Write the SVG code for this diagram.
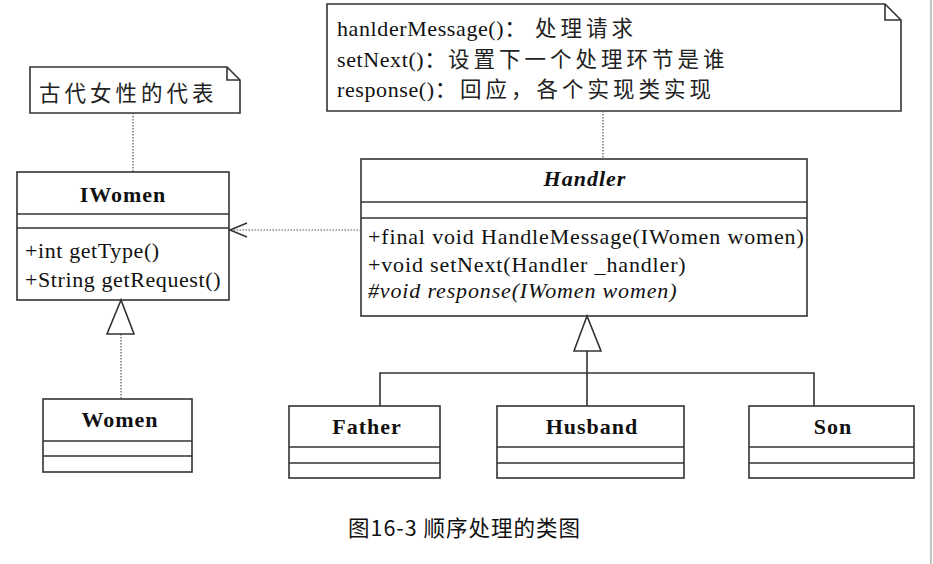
<svg xmlns="http://www.w3.org/2000/svg" width="933" height="564" viewBox="0 0 933 564">
<style>
.box{fill:#fff;stroke:#333;stroke-width:1.6}
.ln{fill:none;stroke:#333;stroke-width:1.6}
.dot{fill:none;stroke:#555;stroke-width:1.2;stroke-dasharray:1.5 1.5}
.t{font-family:"Liberation Serif","Noto Sans CJK SC",serif;font-size:22px;fill:#111;letter-spacing:0.6px}
.cjk{font-family:"Noto Sans CJK SC","Liberation Serif",sans-serif;font-size:21.5px;fill:#222;letter-spacing:4px}
.b{font-weight:bold;text-anchor:middle;letter-spacing:1px}
.i{font-style:italic}
.m{letter-spacing:0.85px}
</style>
<rect width="933" height="564" fill="#fff"/>
<line x1="931" y1="0" x2="931" y2="564" stroke="#c4c4c4" stroke-width="2"/>

<g id="note-women">
<path class="box" d="M30 67 H227 L240 80 V113 H30 Z"/>
<path class="ln" d="M227 67 V80 H240"/>
<text class="cjk" x="39" y="101">古代女性的代表</text>
</g>

<g id="note-handler">
<path class="box" d="M327 4 H885 L901 20 V111 H327 Z"/>
<path class="ln" d="M885 4 V20 H901"/>
<text class="t" x="337" y="36">hanlderMessage()：</text>
<text class="cjk" x="535" y="36">处理请求</text>
<text class="t" x="337" y="67">setNext()：</text>
<text class="cjk" x="448" y="67">设置下一个处理环节是谁</text>
<text class="t" x="337" y="97">response()：</text>
<text class="cjk" x="460" y="97">回应，各个实现类实现</text>
</g>

<g id="IWomen">
<rect class="box" x="17" y="172" width="212" height="128"/>
<line class="ln" x1="17" y1="214" x2="229" y2="214"/>
<line class="ln" x1="17" y1="228" x2="229" y2="228"/>
<text class="t b" x="123" y="202">IWomen</text>
<text class="t" x="25" y="258">+int getType()</text>
<text class="t" x="25" y="287">+String getRequest()</text>
</g>

<g id="Handler">
<rect class="box" x="361" y="159" width="446" height="157"/>
<line class="ln" x1="361" y1="202" x2="807" y2="202"/>
<line class="ln" x1="361" y1="218" x2="807" y2="218"/>
<text class="t b i" x="585" y="186">Handler</text>
<text class="t m" x="368" y="244">+final void HandleMessage(IWomen women)</text>
<text class="t m" x="368" y="272">+void setNext(Handler _handler)</text>
<text class="t i m" x="368" y="298">#void response(IWomen women)</text>
</g>

<g id="Women">
<rect class="box" x="43" y="399" width="149" height="73"/>
<line class="ln" x1="43" y1="441" x2="192" y2="441"/>
<line class="ln" x1="43" y1="456" x2="192" y2="456"/>
<text class="t b" x="120" y="427">Women</text>
</g>

<g id="Father">
<rect class="box" x="289" y="406" width="151" height="72"/>
<line class="ln" x1="289" y1="447" x2="440" y2="447"/>
<line class="ln" x1="289" y1="463" x2="440" y2="463"/>
<text class="t b" x="367" y="434">Father</text>
</g>

<g id="Husband">
<rect class="box" x="497" y="406" width="187" height="72"/>
<line class="ln" x1="497" y1="447" x2="684" y2="447"/>
<line class="ln" x1="497" y1="463" x2="684" y2="463"/>
<text class="t b" x="592" y="434">Husband</text>
</g>

<g id="Son">
<rect class="box" x="749" y="406" width="165" height="72"/>
<line class="ln" x1="749" y1="447" x2="914" y2="447"/>
<line class="ln" x1="749" y1="463" x2="914" y2="463"/>
<text class="t b" x="833" y="434">Son</text>
</g>

<g id="connectors">
<line class="dot" x1="133" y1="113" x2="133" y2="172"/>
<line class="dot" x1="603" y1="111" x2="603" y2="159"/>
<line class="dot" x1="361" y1="230" x2="230" y2="230"/>
<path class="ln" d="M247 223 L230 230 L247 237"/>
<line class="dot" x1="121" y1="334" x2="121" y2="399"/>
<path class="box" d="M121 300 L107 334 H134 Z"/>
<path class="ln" d="M380 406 V373 H814 V406 M587 406 V351"/>
<path class="box" d="M587 316 L574 351 H601 Z"/>
</g>

<text x="348" y="536" font-family="Noto Sans CJK SC, sans-serif" font-size="21.5" letter-spacing="1" fill="#111">图16-3 顺序处理的类图</text>
</svg>
